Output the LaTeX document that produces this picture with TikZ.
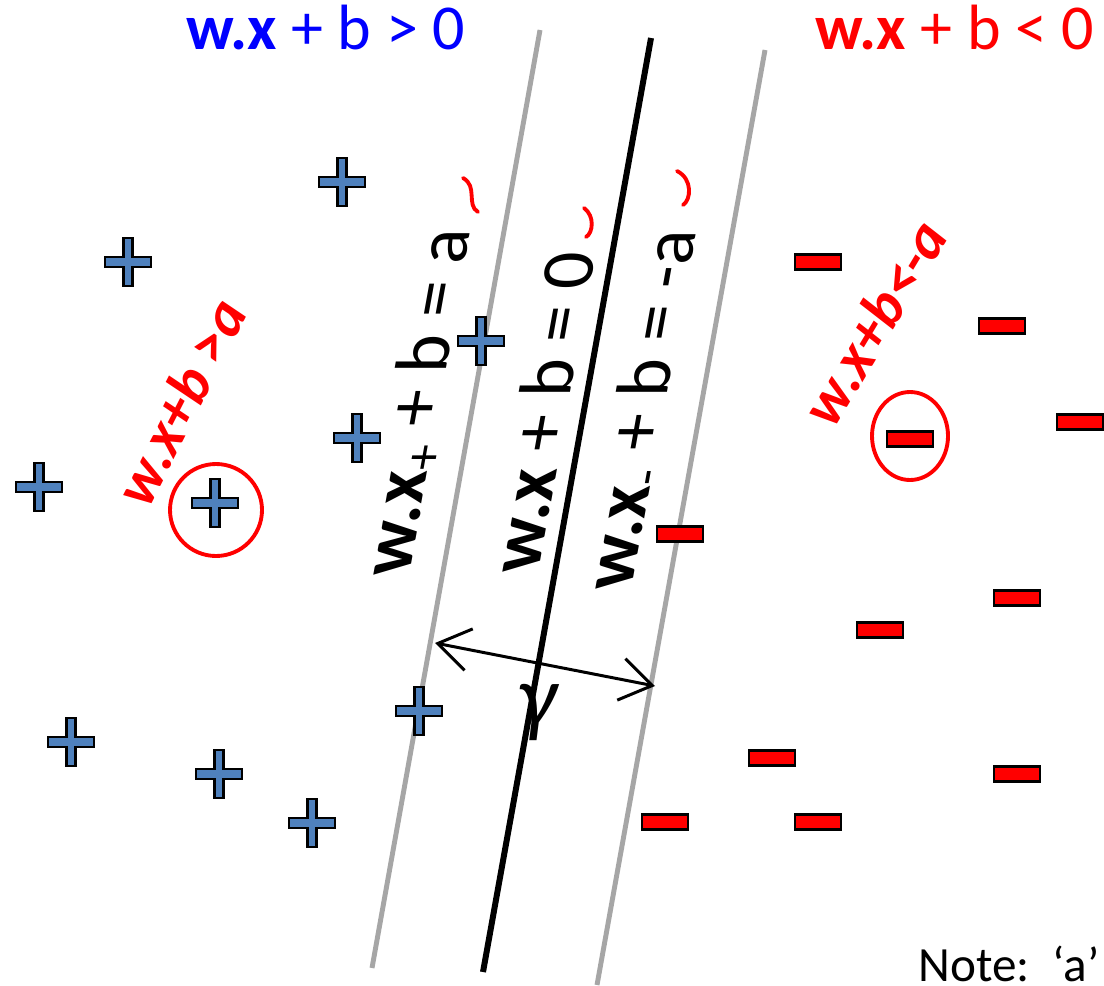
\documentclass[tikz,border=0pt]{standalone}
\usepackage{fontspec}
\setmainfont{Carlito}
\usetikzlibrary{arrows.meta}
\definecolor{ptblue}{RGB}{79,129,189}
\definecolor{gline}{RGB}{166,166,166}
\definecolor{titleblue}{RGB}{0,0,255}
\tikzset{
  plusmark/.pic={\draw[fill=ptblue, line width=0.7pt] (-23,-5) -- (-4.5,-5) -- (-4.5,-24) -- (4.5,-24) -- (4.5,-5) -- (23,-5) -- (23,5) -- (4.5,5) -- (4.5,24) -- (-4.5,24) -- (-4.5,5) -- (-23,5) -- cycle;},
  minusmark/.pic={\draw[fill=red, line width=0.7pt] (-23,-7.5) rectangle (23,7.5);},
  margin/.style={gline, line width=1.4pt},
  hyper/.style={black, line width=1.7pt},
  eqlabel/.style={rotate=90, yslant=-0.18, font=\fontsize{21}{25}\selectfont, inner sep=0pt},
  titletext/.style={font=\fontsize{18.2}{22}\selectfont, anchor=base west, inner sep=0pt},
  hand/.style={red, line width=1.1pt, line cap=round},
  handtext/.style={text=red, font=\fontsize{17}{20}\selectfont\bfseries\itshape, inner sep=0pt},
}
\begin{document}
\begin{tikzpicture}[x=0.01cm, y=-0.01cm]
  \useasboundingbox (0,0) rectangle (1104,985);
  \clip (0,0) rectangle (1104,985);
  \fill[white] (0,0) rectangle (1104,985);

  % titles
  \node[titletext, text=titleblue] (tpos) at (186,50) {\textbf{w.x} + b > 0};
  \node[titletext, text=red] (tneg) at (815,50) {\textbf{w.x} + b < 0};

  % lines
  \coordinate (l1a) at (540,30);  \coordinate (l1b) at (372,968);
  \coordinate (l0a) at (651,38);  \coordinate (l0b) at (483,972);
  \coordinate (l2a) at (765,50);  \coordinate (l2b) at (597,985);
  \draw[margin] (l1a) -- (l1b);
  \draw[hyper] (l0a) -- (l0b);
  \draw[margin] (l2a) -- (l2b);

  % plus points
  \foreach \p in {(342,182),(128,262),(481,341),(357,438),(39,487),(215,503),(419,711),(71,742),(219,774),(312,823)}
    \pic at \p {plusmark};

  % minus points
  \foreach \p in {(818,262),(1002,326),(1080,422),(910,439),(680,534),(1017,598),(880,630),(772,758),(1017,774),(665,822),(818,822)}
    \pic at \p {minusmark};

  % equation labels
  \node[eqlabel] (eqplus) at (420,402) {\textbf{w.x}\textsubscript{+} + b = a};
  \node[eqlabel] (eqzero) at (542,412) {\textbf{w.x} + b = 0};
  \node[eqlabel] (eqminus) at (644,410) {\textbf{w.x}\textsubscript{-} + b = -a};

  % margin arrow
  \coordinate (mL) at (435,643);
  \coordinate (mR) at (655,686);
  \draw[line width=0.85pt, {Straight Barb[length=9pt,width=12pt]}-{Straight Barb[length=9pt,width=12pt]}] (mL) -- (mR);
  \node[font=\fontsize{25}{28}\selectfont\itshape, inner sep=0pt] (gam) at (537,712) {γ};

  % note
  \node[font=\fontsize{14}{17}\selectfont, anchor=base west, inner sep=0pt] (note) at (918,981) {Note:\ \ ‘a’};

  % handwritten annotations
  \node[handtext, rotate=63] (hpos) at (180,402) {w.x+b >a};
  \draw[hand] (216,510) ellipse (46 and 46);
  \node[handtext, rotate=59] (hneg) at (874,323) {w.x+b<-a};
  \draw[hand] (910,436) ellipse (38 and 44);

  % small red ticks
  \coordinate (k1a) at (463,178); \coordinate (k1b) at (478,212);
  \draw[hand] (k1a) .. controls (478,186) and (466,205) .. (k1b);
  \coordinate (k2a) at (584,208); \coordinate (k2b) at (586,237);
  \draw[hand] (k2a) .. controls (595,216) and (593,233) .. (k2b);
  \coordinate (k3a) at (677,171); \coordinate (k3b) at (683,205);
  \draw[hand] (k3a) .. controls (693,179) and (691,200) .. (k3b);
\end{tikzpicture}
\end{document}
